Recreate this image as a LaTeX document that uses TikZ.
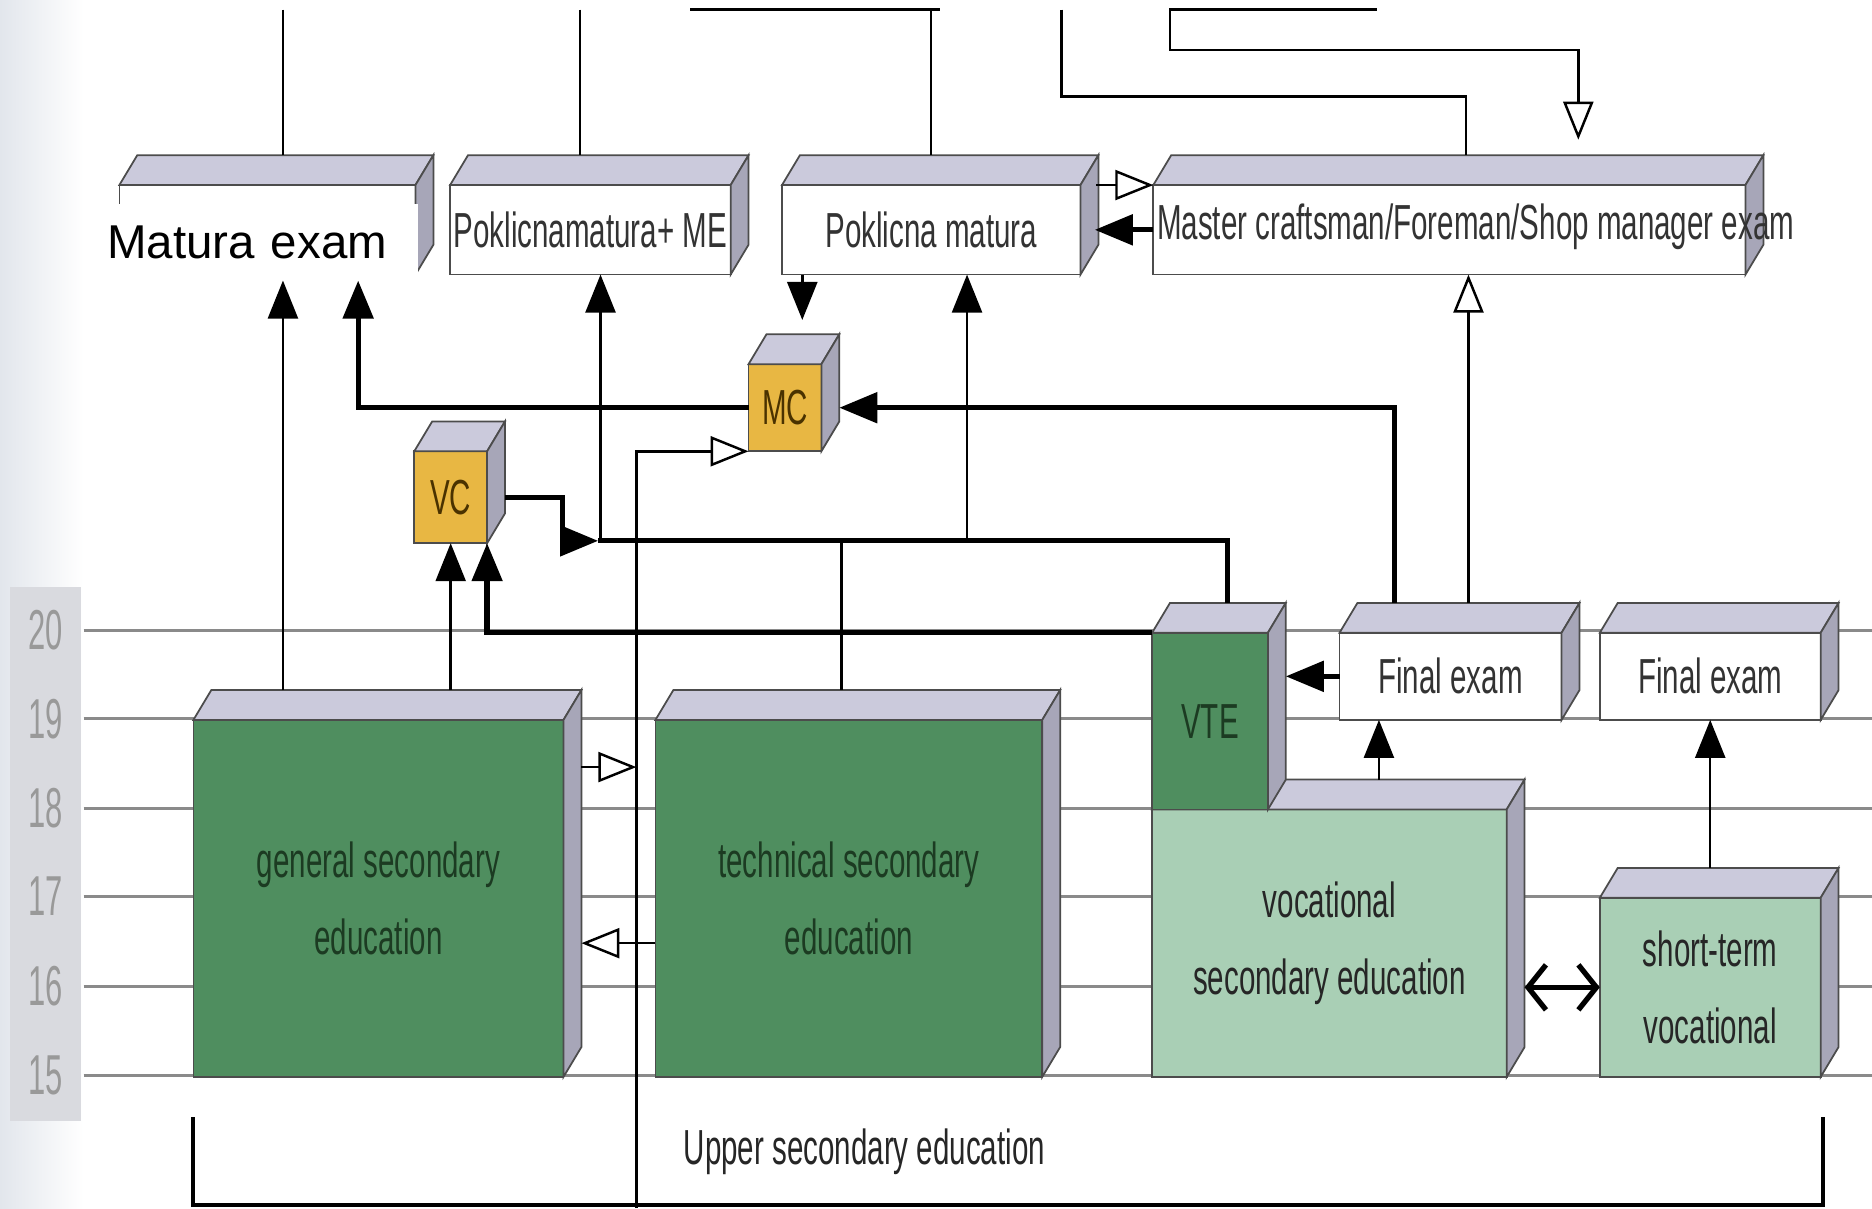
\documentclass[tikz,border=0pt]{standalone}
\usepackage{fontspec}
\setmainfont{Liberation Sans}
\newfontfamily\condfont[FakeStretch=0.6]{Liberation Sans}
\newfontfamily\agefont[FakeStretch=0.55]{Liberation Sans}
\usetikzlibrary{arrows.meta,calc}

\definecolor{deepgreen}{HTML}{4F8E5F}
\definecolor{palegreen}{HTML}{A9CFB5}
\definecolor{cubeyellow}{HTML}{E8B743}
\definecolor{topgray}{HTML}{CBCADC}
\definecolor{sidegray}{HTML}{A7A6B8}
\definecolor{gridgray}{HTML}{8A8A8A}
\definecolor{agegray}{HTML}{D9DADF}
\definecolor{edgeblue}{HTML}{E2E6EC}
\definecolor{textgreen}{HTML}{1C3B22}
\definecolor{cubetext}{HTML}{4A3200}

\newcommand{\pxu}{0.01194cm}
% top and right face of a box node
\newcommand{\boxfaces}[1]{%
  \filldraw[topface] (#1.north west) -- ++(15,-25) -- ($(#1.north east)+(15,-25)$) -- (#1.north east) -- cycle;
  \filldraw[sideface] (#1.north east) -- ++(15,-25) -- ($(#1.south east)+(15,-25)$) -- (#1.south east) -- cycle;
}

\tikzset{
  every node/.style={inner sep=0pt, outer sep=0pt},
  front/.style={draw=black!70, line width=0.5pt, align=center,
    font=\condfont\fontsize{14}{22}\selectfont},
  exam/.style={front, fill=white, text=black!80},
  examtext/.style={font=\condfont\fontsize{14}{16}\selectfont, text=black!80},
  deepbox/.style={front, fill=deepgreen, text=textgreen},
  palebox/.style={front, fill=palegreen, text=black!85},
  cube/.style={front, fill=cubeyellow, text=cubetext},
  boxsize/.style 2 args={minimum width=#1*\pxu, minimum height=#2*\pxu},
  topface/.style={fill=topgray, draw=black!70, line width=0.5pt},
  sideface/.style={fill=sidegray, draw=black!70, line width=0.5pt},
  matpatch/.style={fill=white, align=left, text width=3.1cm, inner xsep=0pt,
    minimum height=64*\pxu, font=\fontsize{13.5}{16}\selectfont},
  agenum/.style={font=\agefont\fontsize{16}{16}\selectfont, text=black!40},
  grid line/.style={draw=gridgray, line width=0.8pt},
  thinline/.style={line width=0.7pt},
  thickline/.style={line width=1.5pt},
  bracket/.style={line width=1.1pt},
  tri/.tip={Triangle[length=0.38cm, width=0.3cm]},
  otri/.tip={Triangle[open, fill=white, length=0.38cm, width=0.3cm]},
  barb/.tip={Straight Barb[length=0.18cm, width=0.45cm]},
}

\begin{document}
\begin{tikzpicture}[x=0.01194cm, y=-0.01194cm]
  \useasboundingbox (0,0) rectangle (1568,1012);
  \fill[white] (0,0) rectangle (1568,1012);
  \shade[left color=edgeblue, right color=white] (0,0) rectangle (70,1012);

  % age scale
  \fill[agegray] (8,492) rectangle (68,939);
  \foreach \a/\y in {20/528,19/602,18/677,17/751,16/826,15/901}{
    \draw[grid line] (70,\y) -- (1568,\y);
    \node[agenum] (age\a) at (38,\y) {\a};
  }

  % exams
  \node[exam, boxsize={248}{75}] (mat) at (224,192.5) {};
  \boxfaces{mat}
  \node[matpatch] (matlabel) at (219.8,203) {Matura exam};
  \node[exam, boxsize={235}{75}] (pme) at (494.5,192.5) {Poklicnamatura+ ME};
  \boxfaces{pme}
  \node[exam, boxsize={250}{75}] (pm) at (780,192.5) {Poklicna matura};
  \boxfaces{pm}
  \node[exam, boxsize={496}{75}] (mce) at (1214,192.5) {};
  \boxfaces{mce}
  \node[examtext] (mcelabel) at (1236,190) {Master craftsman/Foreman/Shop manager exam};

  % courses
  \node[cube, boxsize={61}{73}] (mc) at (657.5,341.5) {MC};
  \boxfaces{mc}
  \node[cube, boxsize={61}{77}] (vc) at (377.5,416.5) {VC};
  \boxfaces{vc}

  % programmes
  \node[deepbox, boxsize={310}{299}] (gen) at (317,752.5) {general secondary\\education};
  \boxfaces{gen}
  \node[deepbox, boxsize={324}{299}] (tech) at (711,752.5) {technical secondary\\education};
  \boxfaces{tech}
  \node[palebox, boxsize={297}{224}] (voc) at (1113.5,790) {vocational\\secondary education};
  \boxfaces{voc}
  \node[deepbox, boxsize={97}{148}] (vte) at (1013.5,604) {VTE};
  \boxfaces{vte}
  \node[exam, boxsize={186}{73}] (fe1) at (1215,566.5) {Final exam};
  \boxfaces{fe1}
  \node[exam, boxsize={185}{73}] (fe2) at (1432.5,566.5) {Final exam};
  \boxfaces{fe2}
  \node[palebox, boxsize={185}{150}] (stv) at (1432.5,827) {short-term\\vocational};
  \boxfaces{stv}

  % lines coming in from above
  \coordinate (inmat) at (237,8);
  \coordinate (inpme) at (486,8);
  \coordinate (inpm) at (780,8);
  \coordinate (inmce) at (889,8);
  \coordinate (inmce2) at (980,8);
  \draw[thinline] (inmat) -- ($(inmat |- mat.north)+(0,-25)$);
  \draw[thinline] (inpme) -- ($(inpme |- pme.north)+(0,-25)$);
  \draw[thinline] (inpm) -- ($(inpm |- pm.north)+(0,-25)$);
  \draw[thinline] (578,8) -- (787,8);
  \draw[thinline] (inmce) -- (889,81) -- (1228,81) -- ($(mce.north)+(14,-25)$);
  \draw[thinline,-otri] (1153,8) -- (inmce2) -- (980,42) -- (1322,42) -- ($(mce.north)+(108,-38)$);

  % into the exams
  \draw[thinline,-tri] ($(gen.north -| inmat)+(0,-25)$) -- (matlabel.south -| inmat);
  \coordinate (mc2mat) at (300,343);
  \draw[thickline,-tri] (mc.west) -| (matlabel.south -| mc2mat);
  \draw[thinline,-tri] ($(gen.north -| vc.south)+(0,-25)$) -- (vc.south);
  \coordinate (vte2vc) at (408,528);
  \draw[thickline,-tri] (vte.north west) -| (vc.south -| vte2vc);

  \coordinate (busL) at (501,453);
  \coordinate (busR) at (1028,453);
  \draw[thickline,-tri] ($(vc.east)+(15,0)$) -- ++(48,0) |- (busL);
  \draw[thickline] (busL) -- (busR) -- ($(busR |- vte.north)+(0,-25)$);
  \coordinate (bus2pme) at (503,453);
  \coordinate (bus2pm) at (810,453);
  \coordinate (tech2bus) at (705,453);
  \draw[thinline,-tri] (bus2pme) -- (pme.south -| bus2pme);
  \draw[thinline,-tri] (bus2pm) -- (pm.south -| bus2pm);
  \draw[thinline] (tech2bus) -- ($(tech2bus |- tech.north)+(0,-25)$);

  \draw[thinline,-tri] ($(pm.south)+(-108,0)$) coordinate (pmdown) -- ($(pmdown |- mc.north)+(0,-37)$);
  \draw[thickline,-tri] (mce.west) -- ($(pm.east)+(12,0)$);
  \draw[thinline,-otri] ($(pm.north east)+(13,0)$) -- (mce.north west);

  \draw[thickline,-tri] ($(fe1.north)+(-47,-25)$) |- ($(mc.east)+(15,0)$);
  \draw[thinline,-otri] ($(fe1.north)+(15,-25)$) coordinate (fe1up) -- (fe1up |- mce.south);
  \draw[thickline,-tri] (fe1.west) -- ($(fe1.west -| vte.east)+(15,0)$);
  \draw[thinline,-tri] ($(voc.north)+(41.5,-25)$) coordinate (vocup) -- (vocup |- fe1.south);
  \draw[thinline,-tri] ($(stv.north)+(0,-25)$) -- (fe2.south);
  \draw[thickline,barb-barb] ($(stv.west -| voc.east)+(15,0)$) -- (stv.west);

  % transfers between programmes
  \draw[thinline,-otri] ($(gen.east)+(15,-110)$) -- ($(tech.west)+(-16,-110)$);
  \draw[thinline,-otri] ($(tech.west)+(0,37.5)$) -- ($(gen.east)+(15,37.5)$);
  \coordinate (fromfar) at (533,1012);
  \draw[thinline,-otri] (fromfar) |- (mc.south west);

  % level bracket
  \draw[bracket] (162,936) -- (162,1009) -- (1527,1009) -- (1527,936);
  \node[examtext, text=black!85] (upper) at (724,965) {Upper secondary education};
\end{tikzpicture}
\end{document}
